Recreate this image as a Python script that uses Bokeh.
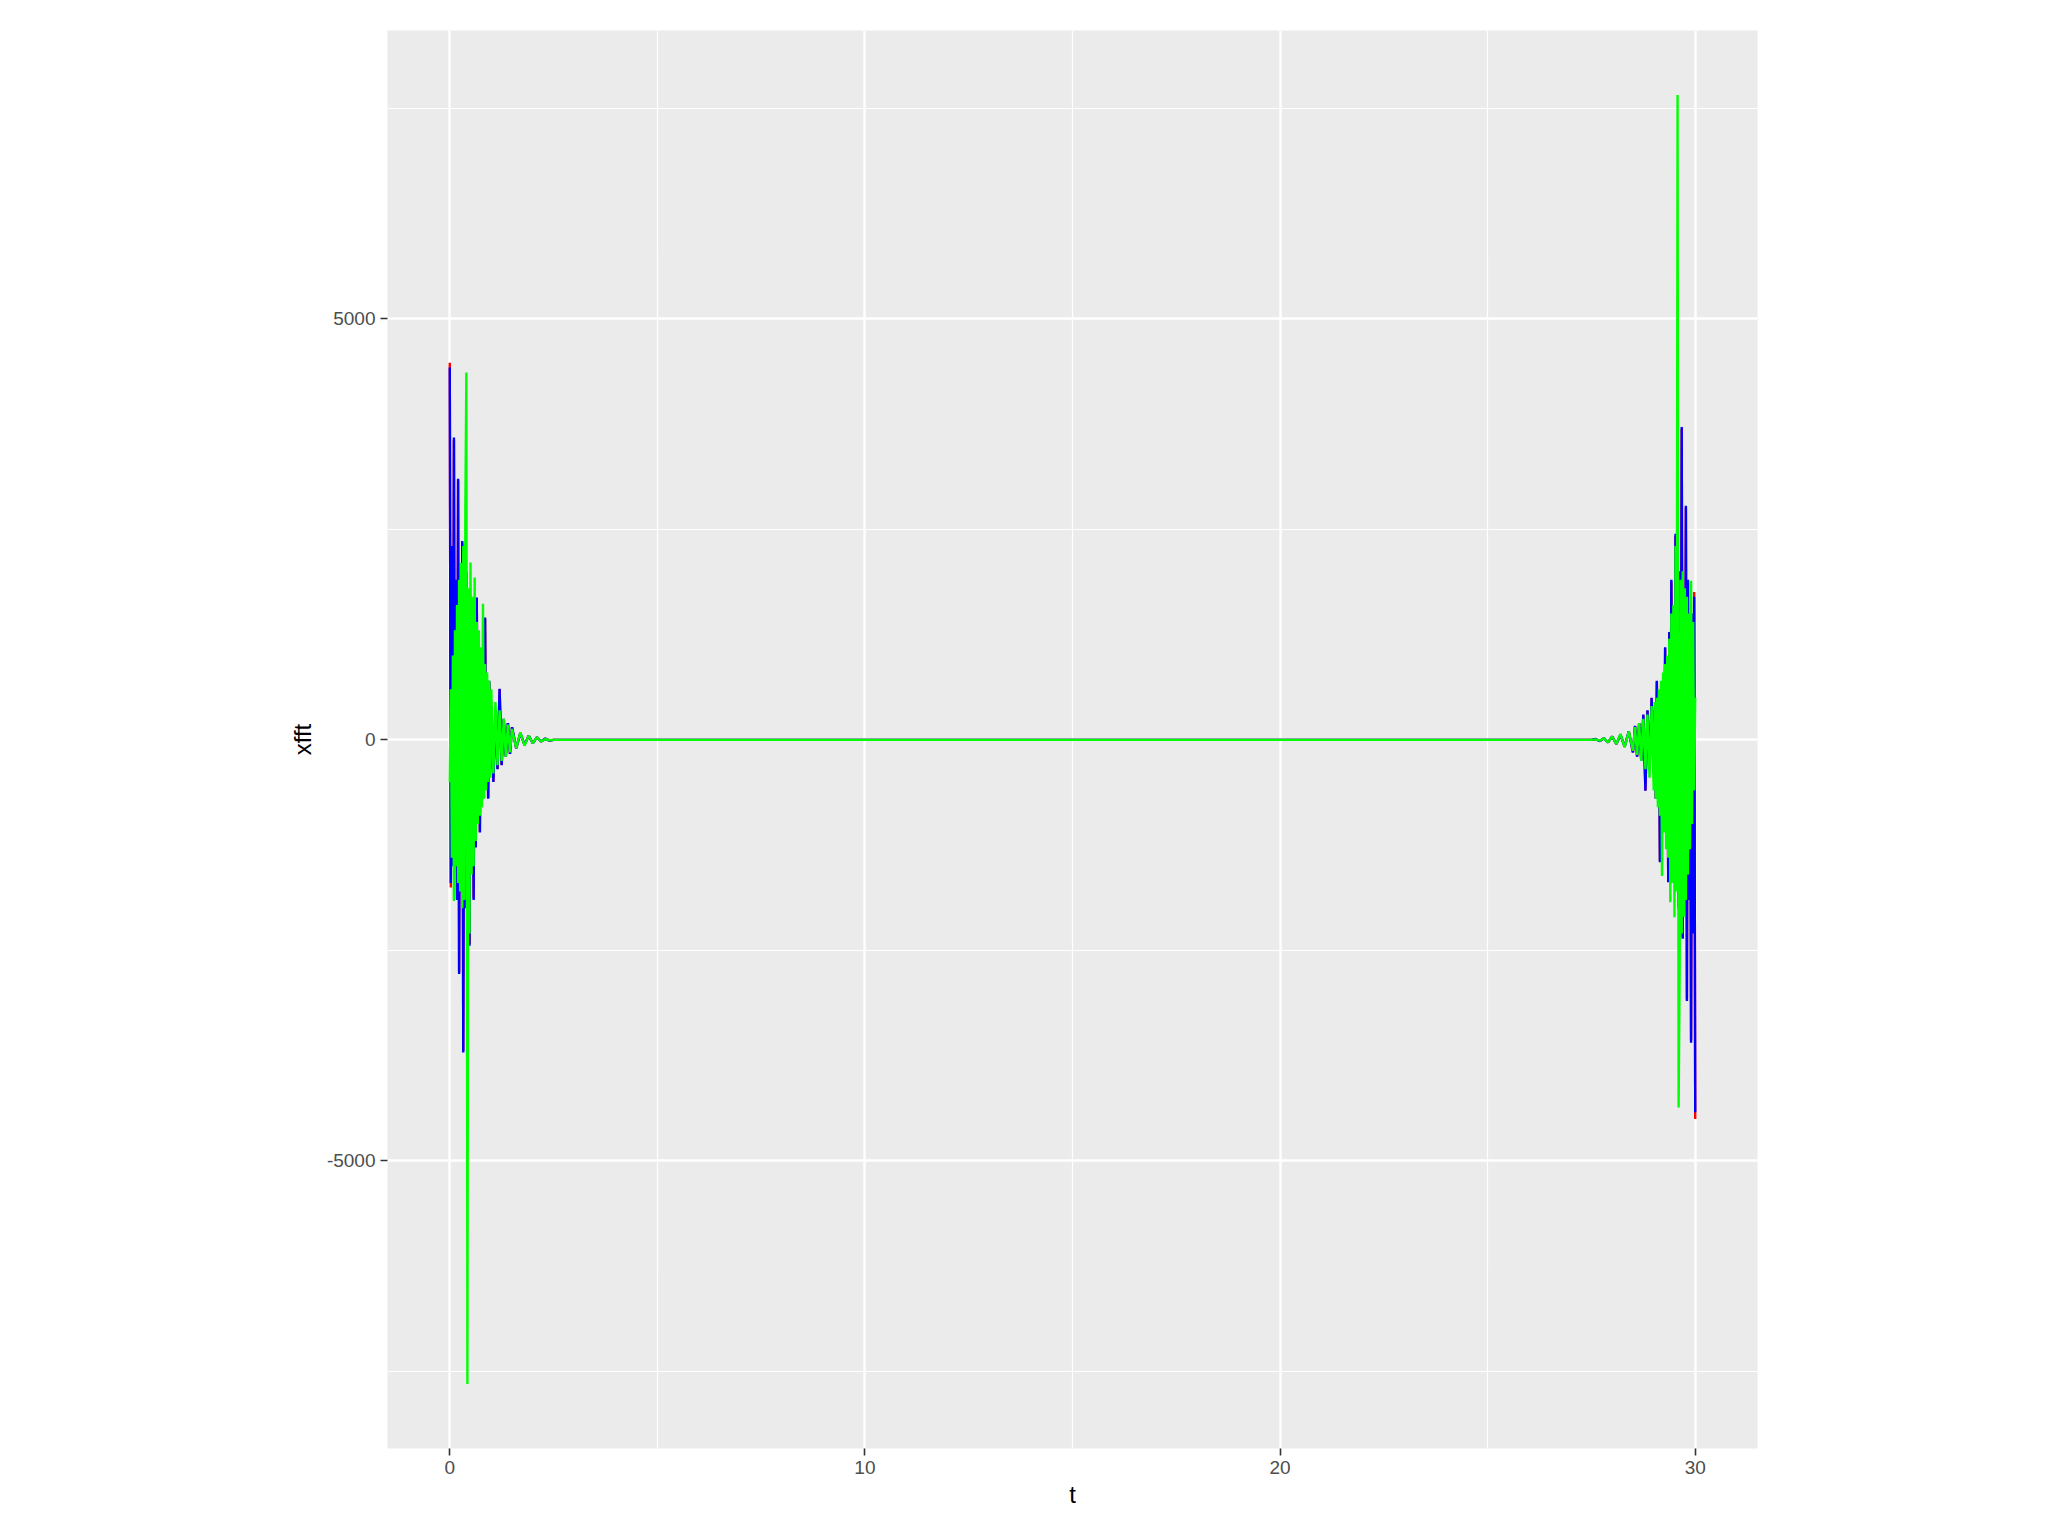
from bokeh.plotting import figure
from bokeh.models import Range1d, FixedTicker
from bokeh.embed import file_html
from bokeh.resources import INLINE

# sample times (t)
t = [0.0, 0.025, 0.05, 0.075, 0.1, 0.125, 0.15, 0.175, 0.2, 0.225,
     0.25, 0.275, 0.3, 0.325, 0.35, 0.375, 0.4, 0.425, 0.45, 0.475,
     0.5, 0.525, 0.55, 0.575, 0.6, 0.625, 0.65, 0.675, 0.7, 0.725,
     0.75, 0.775, 0.8, 0.825, 0.85, 0.875, 0.9, 0.925, 0.95, 0.975, 1.0,
     1.05, 1.1, 1.15, 1.2, 1.25, 1.3, 1.35, 1.4, 1.45, 1.5,
     1.6, 1.7, 1.8, 1.9, 2.0, 2.1, 2.2, 2.3, 2.4, 2.5,
     27.5, 27.6, 27.7, 27.8, 27.9, 28.0, 28.1, 28.2, 28.3, 28.4,
     28.5, 28.55, 28.6, 28.65, 28.7, 28.75, 28.8, 28.85, 28.9, 28.95,
     29.0, 29.025, 29.05, 29.075, 29.1, 29.125, 29.15, 29.175, 29.2, 29.225,
     29.25, 29.275, 29.3, 29.325, 29.35, 29.375, 29.4, 29.425, 29.45, 29.475,
     29.5, 29.525, 29.55, 29.575, 29.6, 29.625, 29.65, 29.675, 29.7, 29.725,
     29.75, 29.775, 29.8, 29.825, 29.85, 29.875, 29.9, 29.925, 29.95, 29.975, 30.0]

xfft_red = [4477, -1754, 2280, -1480, 3560, -1190, 1880, -1880, 3080, -2760,
            1490, -1590, 2340, -3690, 1190, -1980, 1980, -890, 1290, -2420,
            1490, -1090, 890, -1880, 1190, -1270, 1680, -690, 790, -1090,
            890, -520, 690, -590, 1440, -395, 495, -690, 690, -345, 395,
            -495, 345, -345, 600, -295, 245, -198, 198, -164, 148,
            -99, 79, -59, 49, -39, 29, -19, 14, -9, 0,
            0, 9, -14, 19, -29, 39, -49, 59, -79, 99,
            -148, 164, -198, 198, -245, 295, -600, 345, -345, 495,
            -395, 345, -690, 690, -495, 395, -1440, 590, -690, 520,
            -890, 1090, -790, 690, -1680, 1270, -1190, 1880, -890, 1090,
            -1490, 2420, -1290, 890, -1980, 1980, -1190, 3690, -2340, 1590,
            -1490, 2760, -3080, 1880, -1880, 1190, -3560, 1480, -2280, 1754, -4501]

xfft_blue = [4420, -1700, 2300, -1500, 3590, -1200, 1900, -1900, 3100, -2780,
             1500, -1600, 2360, -3713, 1200, -2000, 2000, -900, 1300, -2446,
             1500, -1100, 900, -1900, 1200, -1279, 1690, -700, 800, -1100,
             900, -523, 700, -600, 1452, -400, 500, -700, 700, -350, 400,
             -500, 350, -350, 605, -300, 250, -200, 200, -166, 150,
             -100, 80, -60, 50, -40, 30, -20, 15, -10, 0,
             0, 10, -15, 20, -30, 40, -50, 60, -80, 100,
             -150, 166, -200, 200, -250, 300, -605, 350, -350, 500,
             -400, 350, -700, 700, -500, 400, -1452, 600, -700, 523,
             -900, 1100, -800, 700, -1690, 1279, -1200, 1900, -900, 1100,
             -1500, 2446, -1300, 900, -2000, 2000, -1200, 3713, -2360, 1600,
             -1500, 2780, -3100, 1900, -1900, 1200, -3595, 1500, -2300, 1700, -4420]

xfft_green = [-500, 600, -1400, 1000, -1912, 1300, -1500, 1600, -1700, 1900,
              -1800, 2100, -2000, 2300, -1900, 2700, 4362, -7648, 1800, -2300,
              2105, -1600, 1700, -1500, 1927, -1200, 1400, -1000, 1300, -900,
              1100, -800, 1615, -700, 900, -600, 800, -500, 700, -450, 600,
              -400, 450, -300, 350, -250, 250, -200, 180, -150, 130,
              -100, 90, -70, 50, -40, 30, -20, 10, -5, 0,
              0, 5, -10, 20, -30, 40, -50, 70, -90, 100,
              -130, 150, -180, 200, -250, 250, -350, 300, -450, 400,
              -600, 450, -700, 500, -800, 600, -900, 700, -1615, 800,
              -1100, 900, -1300, 1000, -1400, 1200, -1927, 1500, -1700, 1600,
              -2105, 2300, -1800, 7656, -4366, -2700, 1900, -2300, 2000, -2100,
              1800, -1900, 1700, -1600, 1500, -1300, 1888, -1000, 1400, -600, 500]

x_ticks = [0, 10, 20, 30]
x_minor = [5, 15, 25]
y_ticks = [-5000, 0, 5000]
y_minor = [-7500, -2500, 2500, 7500]
y_tick_labels = {-5000: "-5000", 0: "0", 5000: "5000"}

# ggplot-like 5% expansion
all_y = xfft_red + xfft_blue + xfft_green
xmin, xmax = min(t), max(t)
ymin, ymax = min(all_y), max(all_y)
xpad = (xmax - xmin) * 0.05
ypad = (ymax - ymin) * 0.05

p = figure(width=2032, height=1520, output_backend="svg", toolbar_location=None,
           x_range=Range1d(xmin - xpad, xmax + xpad),
           y_range=Range1d(ymin - ypad, ymax + ypad),
           min_border_left=387, min_border_right=275,
           min_border_top=30, min_border_bottom=72)

p.background_fill_color = "#EBEBEB"
p.border_fill_color = "white"
p.outline_line_color = None

p.xaxis.ticker = FixedTicker(ticks=x_ticks, minor_ticks=x_minor)
p.yaxis.ticker = FixedTicker(ticks=y_ticks, minor_ticks=y_minor)
p.xgrid.ticker = FixedTicker(ticks=x_ticks, minor_ticks=x_minor)
p.ygrid.ticker = FixedTicker(ticks=y_ticks, minor_ticks=y_minor)
p.yaxis.major_label_overrides = y_tick_labels

for g in (p.xgrid, p.ygrid):
    g.grid_line_color = "white"
    g.grid_line_width = 2.4
    g.minor_grid_line_color = "white"
    g.minor_grid_line_width = 1.2

for ax in (p.xaxis, p.yaxis):
    ax.axis_line_color = None
    ax.major_tick_line_color = "#333333"
    ax.major_tick_line_width = 1.6
    ax.major_tick_out = 7
    ax.major_tick_in = 0
    ax.minor_tick_line_color = None
    ax.major_label_text_font = "Liberation Sans"
    ax.major_label_text_font_size = "19px"
    ax.major_label_text_color = "#4D4D4D"
    ax.major_label_standoff = 5
    ax.axis_label_text_font = "Liberation Sans"
    ax.axis_label_text_font_size = "24px"
    ax.axis_label_text_font_style = "normal"
    ax.axis_label_text_color = "black"

p.xaxis.axis_label = "t"
p.yaxis.axis_label = "xfft"
p.xaxis.axis_label_standoff = 4
p.yaxis.axis_label_standoff = 8

p.line(t, xfft_red, line_color="#FF0000", line_width=2.4)
p.line(t, xfft_blue, line_color="#0000FF", line_width=2.4)
p.line(t, xfft_green, line_color="#00FF00", line_width=2.4)

open("out.html", "w").write(file_html(p, INLINE))
